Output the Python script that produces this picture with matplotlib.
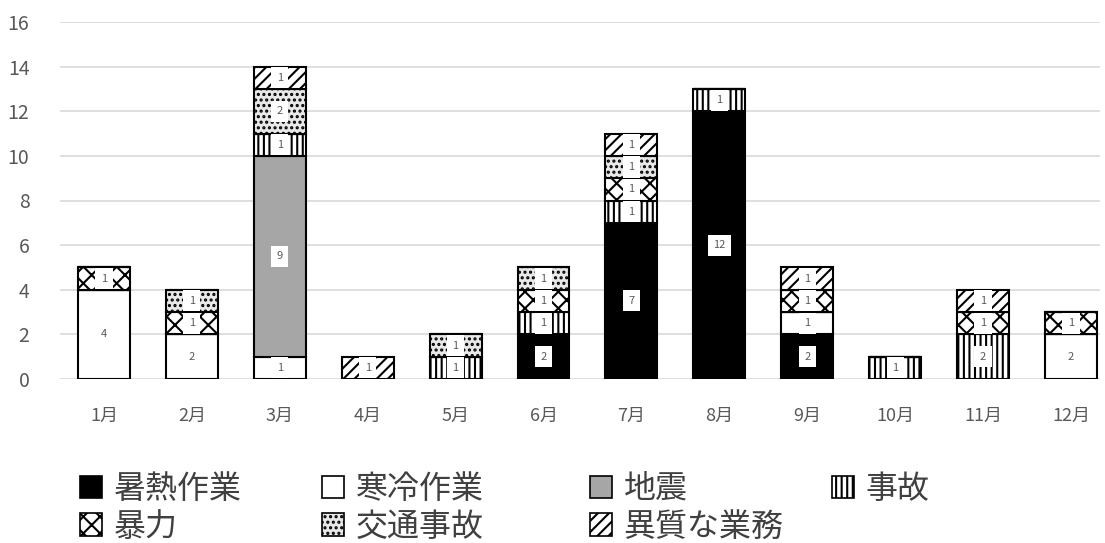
#!/usr/bin/env python3
"""Monthly stacked bar chart of incident categories."""
import matplotlib.pyplot as plt
import numpy as np
from matplotlib.patches import Patch

plt.rcParams['font.family'] = ['Noto Sans CJK JP', 'DejaVu Sans']
plt.rcParams['hatch.linewidth'] = 1.5

months = ["1月", "2月", "3月", "4月", "5月", "6月", "7月", "8月", "9月", "10月", "11月", "12月"]

# stacking order bottom -> top
heat = [0, 0, 0, 0, 0, 2, 7, 12, 2, 0, 0, 0]       # 暑熱作業
cold = [4, 2, 1, 0, 0, 0, 0, 0, 1, 0, 0, 2]        # 寒冷作業
quake = [0, 0, 9, 0, 0, 0, 0, 0, 0, 0, 0, 0]       # 地震
accident = [0, 0, 1, 0, 1, 1, 1, 1, 0, 1, 2, 0]    # 事故
violence = [1, 1, 0, 0, 0, 1, 1, 0, 1, 0, 1, 1]    # 暴力
traffic = [0, 1, 2, 0, 1, 1, 1, 0, 0, 0, 0, 0]     # 交通事故
unusual = [0, 0, 1, 1, 0, 0, 1, 0, 1, 0, 1, 0]     # 異質な業務

series = [
    ("暑熱作業", heat, "black", None),
    ("寒冷作業", cold, "white", None),
    ("地震", quake, "#a6a6a6", None),
    ("事故", accident, "white", "|||"),
    ("暴力", violence, "white", "xx"),
    ("交通事故", traffic, "#e8e8e8", "..."),
    ("異質な業務", unusual, "white", "///"),
]

fig = plt.figure(figsize=(11.05, 5.43), dpi=100)
ax = fig.add_axes([60 / 1105, 1 - 379 / 543, 1040 / 1105, 357 / 543])

x = np.arange(len(months))
bottom = np.zeros(len(months))
handles = {}
for name, vals, color, hatch in series:
    vals = np.array(vals, dtype=float)
    ax.bar(x, vals, 0.59, bottom=bottom, color=color, edgecolor="black",
           linewidth=1.5, hatch=hatch, zorder=3)
    for xi, v, b in zip(x, vals, bottom):
        if v > 0:
            ax.text(xi, b + v / 2, f"{int(v)}", ha="center", va="center",
                    fontsize=8, color="#595959", zorder=10,
                    bbox=dict(boxstyle="square,pad=0.5", fc="white", ec="none"))
    bottom += vals
    handles[name] = Patch(facecolor=color, edgecolor="black", linewidth=1.2,
                          hatch=hatch, label=name)

ax.set_xlim(-0.5, 11.33)
ax.set_ylim(0, 16)
ax.set_yticks(range(0, 17, 2))
ax.set_xticks(x)
ax.set_xticklabels(months)
ax.yaxis.grid(True, color="#d9d9d9", linewidth=1.2, zorder=0)
ax.set_axisbelow(True)
for s in ax.spines.values():
    s.set_visible(False)
ax.tick_params(axis="both", length=0, colors="#595959")
ax.tick_params(axis="y", labelsize=14, pad=22)
ax.tick_params(axis="x", labelsize=13, pad=20)

# legend: four fixed-width columns, filled row by row
legend_cols = [["暑熱作業", "暴力"], ["寒冷作業", "交通事故"], ["地震", "異質な業務"], ["事故"]]
col_x = [80, 322, 590, 832]
for names, cx in zip(legend_cols, col_x):
    leg = fig.legend([handles[n] for n in names], names, loc="upper left",
                     bbox_to_anchor=(cx / 1105, 1 - 473 / 543), ncol=1,
                     frameon=False, fontsize=23, handlelength=0.7,
                     handleheight=0.7, handletextpad=0.35, labelspacing=0.18,
                     borderaxespad=0.0, borderpad=0.0, labelcolor="#404040")

fig.savefig("out.png", dpi=100)
